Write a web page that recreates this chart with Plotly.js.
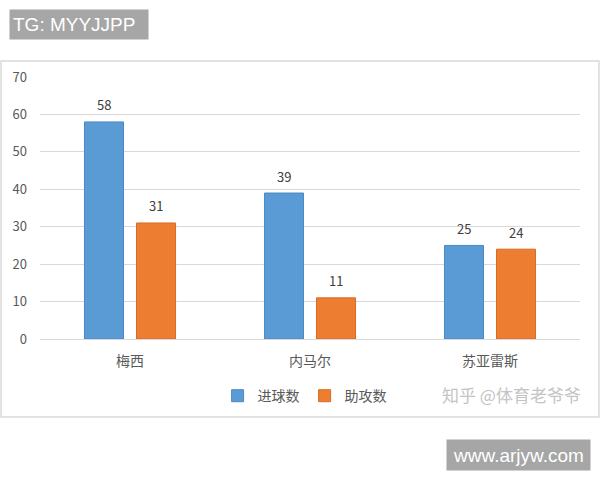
<!DOCTYPE html>
<html>
<head>
<meta charset="utf-8">
<script src="https://cdn.plot.ly/plotly-3.0.1.min.js"></script>
<style>html,body{margin:0;padding:0;background:#fff;}#chart{width:600px;height:480px;}</style>
</head>
<body>
<div id="chart"></div>
<script>
var players = ["梅西", "内马尔", "苏亚雷斯"];
var goals = [58, 39, 25];
var assists = [31, 11, 24];
var seriesNames = ["进球数", "助攻数"];
var yTicks = [0, 10, 20, 30, 40, 50, 60, 70];

var cjk = '"Noto Sans CJK SC", "Microsoft YaHei", sans-serif';
var textFont = {family: cjk, size: 13, color: "#404040"};

var traces = [
  {type: "bar", name: seriesNames[0], x: players, y: goals,
   marker: {color: "#5b9bd5", line: {color: "#4a8ac4", width: 1}}, hoverinfo: "none"},
  {type: "bar", name: seriesNames[1], x: players, y: assists,
   marker: {color: "#ed7d31", line: {color: "#d86c22", width: 1}}, hoverinfo: "none"}
];

// value labels above bars, built from the data arrays
var labelAnns = [];
[goals, assists].forEach(function (vals, s) {
  vals.forEach(function (v, i) {
    labelAnns.push({xref: "x", yref: "y", x: players[i], y: v, xshift: s === 0 ? -26 : 26,
      yshift: 17, yanchor: "middle", xanchor: "center", text: String(v), showarrow: false,
      font: textFont});
  });
});

var layout = {
  width: 600, height: 480,
  margin: {l: 40, r: 20, t: 77, b: 141},
  paper_bgcolor: "#ffffff", plot_bgcolor: "#ffffff",
  barmode: "group", bargap: 0.422, bargroupgap: 0.25,
  font: {family: cjk, color: "#595959"},
  showlegend: true,
  legend: {orientation: "h", x: 0.49, xanchor: "center", y: -0.218, yanchor: "middle",
           font: {family: cjk, size: 14, color: "#595959"}, itemwidth: 30,
           tracegroupgap: 0},
  xaxis: {showgrid: false, showline: false, zeroline: false, ticks: "", ticklabelstandoff: 12,
          tickfont: {family: cjk, size: 14, color: "#595959"}, fixedrange: true},
  yaxis: {range: [0, 70], tickvals: yTicks, ticktext: yTicks.map(String),
          showgrid: true, gridcolor: "#d9d9d9", gridwidth: 1, zeroline: true,
          zerolinecolor: "#d9d9d9", zerolinewidth: 1, showline: false, ticks: "",
          ticklabelstandoff: 12,
          tickfont: {family: cjk, size: 13, color: "#595959"}, fixedrange: true},
  shapes: [
    {type: "rect", xref: "paper", yref: "paper", x0: -0.0722, x1: 1.035, y0: -0.298, y1: 1.061,
     line: {color: "#d9d9d9", width: 1.5}, fillcolor: "rgba(0,0,0,0)", layer: "below"}
  ],
  annotations: labelAnns.concat([
    {xref: "paper", yref: "paper", x: 0.0722, y: 1.200, xanchor: "center", yanchor: "middle",
     text: "TG: MYYJJPP", showarrow: false, bgcolor: "#a6a6a6", width: 132, height: 23,
     borderpad: 3, align: "left",
     font: {family: "Liberation Sans, Arial, sans-serif", size: 19, color: "#ffffff"}},
    {xref: "paper", yref: "paper", x: 0.886, y: -0.443, xanchor: "center", yanchor: "middle",
     text: "www.arjyw.com", showarrow: false, bgcolor: "#a6a6a6", width: 137, height: 24,
     borderpad: 3, align: "center",
     font: {family: "Liberation Sans, Arial, sans-serif", size: 19, color: "#ffffff"}},
    {xref: "paper", yref: "paper", x: 0.874, y: -0.212, xanchor: "center", yanchor: "middle",
     text: "知乎 @体育老爷爷", showarrow: false,
     font: {family: cjk, size: 17, color: "#c4c4c4"}}
  ])
};

Plotly.newPlot("chart", traces, layout, {displayModeBar: false, staticPlot: true});
</script>
</body>
</html>
